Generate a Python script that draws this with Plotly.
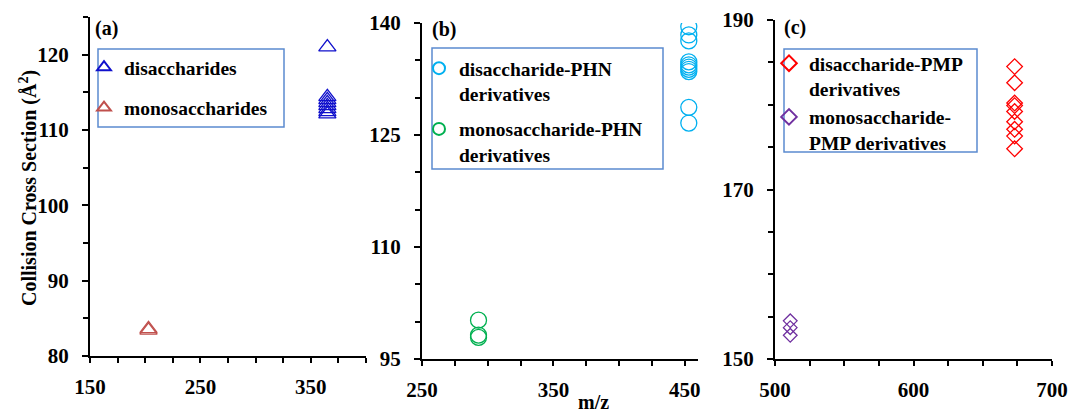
import plotly.graph_objects as go

# ---------------- data ----------------
a_di_mz = [365, 365, 365, 365, 365, 365, 365, 365]
a_di_ccs = [121.0, 114.4, 114.0, 113.6, 113.2, 112.8, 112.4, 112.1]
a_mono_mz = [203, 203]
a_mono_ccs = [83.4, 83.6]

b_di_mz = [453, 453, 453, 453, 453, 453, 453, 453, 453, 453]
b_di_ccs = [139.5, 138.4, 137.6, 134.8, 134.4, 134.1, 133.8, 133.5, 128.7, 126.6]
b_mono_mz = [293, 293, 293]
b_mono_ccs = [100.2, 98.2, 97.9]

c_di_mz = [673, 673, 673, 673, 673, 673, 673, 673, 673]
c_di_ccs = [184.5, 182.6, 180.2, 179.9, 179.2, 178.0, 177.1, 176.3, 174.8]
c_mono_mz = [511, 511, 511]
c_mono_ccs = [154.5, 153.7, 152.8]

names = {
    "a_di": "disaccharides",
    "a_mono": "monosaccharides",
    "b_di": "disaccharide-PHN<br>derivatives",
    "b_mono": "monosaccharide-PHN<br>derivatives",
    "c_di": "disaccharide-PMP<br>derivatives",
    "c_mono": "monosaccharide-<br>PMP derivatives",
}

W, H = 1071, 414
FONT = "Liberation Serif, Times New Roman, serif"


def px(x):
    return x / W


def py(y):
    return 1 - y / H


fig = go.Figure()


def add(x, y, name, sym, size, color, xa, ya, legend, group):
    fig.add_trace(go.Scatter(
        x=x, y=y, mode="markers", name=name,
        marker=dict(symbol=sym, size=size, color=color, line=dict(width=1.3)),
        xaxis=xa, yaxis=ya, legend=legend, legendgroup=group,
    ))


add(a_di_mz, a_di_ccs, names["a_di"], "triangle-up-open", 15, "#1010CC", "x", "y", "legend", "a1")
add(a_mono_mz, a_mono_ccs, names["a_mono"], "triangle-up-open", 15, "#C0504D", "x", "y", "legend", "a2")
add(b_di_mz, b_di_ccs, names["b_di"], "circle-open", 16, "#00B0F0", "x2", "y2", "legend2", "b1")
add(b_mono_mz, b_mono_ccs, names["b_mono"], "circle-open", 16, "#00B050", "x2", "y2", "legend2", "b2")
add(c_di_mz, c_di_ccs, names["c_di"], "diamond-open", 12, "#FF0000", "x3", "y3", "legend3", "c1")
add(c_mono_mz, c_mono_ccs, names["c_mono"], "diamond-open", 10.5, "#7030A0", "x3", "y3", "legend3", "c2")

tickfont = dict(family=FONT, size=21, color="black", weight="bold")


def xaxis(dom, rng, t0, anchor):
    return dict(domain=dom, range=rng, tick0=t0, dtick=100, showgrid=False, zeroline=False,
                showline=True, linecolor="black", linewidth=2, ticks="outside", ticklen=5,
                tickwidth=1.5, tickcolor="black", tickfont=tickfont, ticklabelstandoff=6,
                minor=dict(ticks="outside", ticklen=5, tickwidth=1.5, tickcolor="black", dtick=25, tick0=t0),
                anchor=anchor, automargin=False, fixedrange=True)


def yaxis(dom, rng, t0, dt, anchor):
    return dict(domain=dom, range=rng, tick0=t0, dtick=dt, showgrid=False, zeroline=False,
                showline=True, linecolor="black", linewidth=2, ticks="outside", ticklen=6,
                tickwidth=1.5, tickcolor="black", tickfont=tickfont, ticklabelstandoff=9,
                minor=dict(ticks="outside", ticklen=5, tickwidth=1.5, tickcolor="black", dtick=5, tick0=t0),
                anchor=anchor, automargin=False, fixedrange=True)


def legend(xl, yt, gap):
    return dict(x=px(xl), y=py(yt), xanchor="left", yanchor="top", xref="paper", yref="paper",
                bgcolor="rgba(0,0,0,0)", borderwidth=0, valign="top", itemsizing="constant",
                tracegroupgap=gap, font=dict(family=FONT, size=19.5, color="black", weight="bold"))


fig.update_layout(
    template="none",
    width=W, height=H, margin=dict(l=0, r=0, t=0, b=0, autoexpand=False),
    paper_bgcolor="white", plot_bgcolor="white",
    xaxis=xaxis([px(90), px(366)], [150, 400], 150, "y"),
    yaxis=yaxis([py(356), py(17)], [80, 125], 80, 10, "x"),
    xaxis2=xaxis([px(422), px(698)], [250, 460], 250, "y2"),
    yaxis2=yaxis([py(359), py(23)], [95, 140], 95, 15, "x2"),
    xaxis3=xaxis([px(775), px(1052)], [500, 700], 500, "y3"),
    yaxis3=yaxis([py(359), py(20)], [150, 190], 150, 20, "x3"),
    legend=legend(84, 48, 12),
    legend2=legend(419, 49, 7),
    legend3=legend(769, 44, 0),
    showlegend=True,
)

# legend frames
for (x0, y0, x1, y1) in [(98, 49, 284, 127), (432, 48, 663, 169), (784, 49, 977, 152)]:
    fig.add_shape(type="rect", xref="paper", yref="paper", x0=px(x0), x1=px(x1), y0=py(y1), y1=py(y0),
                  line=dict(color="#5B8BD0", width=1.5), fillcolor="rgba(0,0,0,0)", layer="below")

afont = dict(family=FONT, size=20, color="black", weight="bold")
for lab, x, y in [("(a)", 93, 29), ("(b)", 430, 30), ("(c)", 782, 28)]:
    fig.add_annotation(text=lab, x=px(x), y=py(y), xref="paper", yref="paper",
                       xanchor="left", yanchor="middle", showarrow=False, font=afont)

fig.add_annotation(text="Collision Cross Section (Å<sup>2</sup>)", x=px(28), y=py(188),
                   xref="paper", yref="paper", textangle=-90, showarrow=False,
                   xanchor="center", yanchor="middle", font=afont)
fig.add_annotation(text="m/z", x=px(593), y=py(402), xref="paper", yref="paper",
                   showarrow=False, xanchor="center", yanchor="middle", font=afont)

fig.write_html("out.html")
